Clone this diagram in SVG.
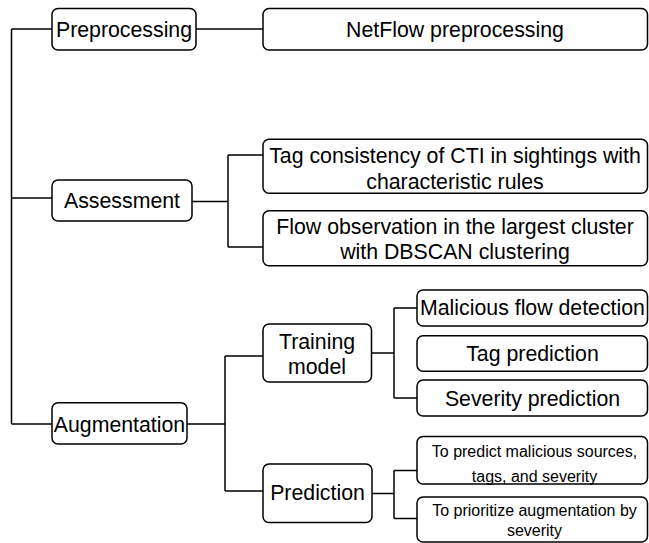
<svg xmlns="http://www.w3.org/2000/svg" width="649" height="543" viewBox="0 0 649 543">
<style>
.box{fill:#ffffff;stroke:#000000;stroke-width:1.5}
.ln{fill:none;stroke:#000000;stroke-width:1.5}
text{font-family:"Liberation Sans",Arial,sans-serif;fill:#000000;text-anchor:middle}
.big{font-size:21.3px}
.small{font-size:16px}
</style>
<rect width="649" height="543" fill="#ffffff"/>
<g id="connectors">
<path class="ln" d="M11.5,29 V424"/>
<path class="ln" d="M11.5,29 H52"/>
<path class="ln" d="M11.5,198 H52"/>
<path class="ln" d="M11.5,424 H52"/>
<path class="ln" d="M196,29 H263"/>
<path class="ln" d="M192,201.5 H228 M228,155 V247 M228,155 H263 M228,247 H263"/>
<path class="ln" d="M187,424 H225 M225,356 V491 M225,356 H263 M225,491 H263"/>
<path class="ln" d="M372,353 H394 M394,308 V398 M394,308 H417 M394,398 H417"/>
<path class="ln" d="M372,493.5 H394 M394,470.5 V518.5 M394,470.5 H417 M394,518.5 H417"/>
</g>
<g id="preprocessing"><rect class="box" x="52" y="8.5" width="144" height="41.5" rx="6"/><text class="big" x="124" y="36.5">Preprocessing</text></g>
<g id="assessment"><rect class="box" x="52" y="180" width="140" height="41" rx="6"/><text class="big" x="122" y="208">Assessment</text></g>
<g id="augmentation"><rect class="box" x="52" y="402.7" width="135" height="41.3" rx="6"/><text class="big" x="119.5" y="431.5">Augmentation</text></g>
<g id="netflow"><rect class="box" x="263" y="8.5" width="384.5" height="41.5" rx="6"/><text class="big" x="455" y="36.5">NetFlow preprocessing</text></g>
<g id="tag-consistency"><rect class="box" x="263" y="139.3" width="384.5" height="54" rx="6"/><text class="big" x="455" y="162.5">Tag consistency of CTI in sightings with</text><text class="big" x="455" y="189">characteristic rules</text></g>
<g id="flow-observation"><rect class="box" x="263" y="210.7" width="384.5" height="55" rx="6"/><text class="big" x="455" y="234">Flow observation in the largest cluster</text><text class="big" x="455" y="259">with DBSCAN clustering</text></g>
<g id="training-model"><rect class="box" x="263" y="324" width="108.5" height="58" rx="6"/><text class="big" x="317" y="349">Training</text><text class="big" x="317" y="374">model</text></g>
<g id="prediction"><rect class="box" x="263" y="464" width="109" height="58.5" rx="6"/><text class="big" x="317.5" y="500">Prediction</text></g>
<g id="malicious-flow"><rect class="box" x="417" y="290" width="230.5" height="36" rx="6"/><text class="big" x="532.5" y="315">Malicious flow detection</text></g>
<g id="tag-prediction"><rect class="box" x="417" y="335.7" width="230.5" height="35.5" rx="6"/><text class="big" x="532.5" y="361">Tag prediction</text></g>
<g id="severity-prediction"><rect class="box" x="417" y="380" width="230.5" height="36" rx="6"/><text class="big" x="532.5" y="405.5">Severity prediction</text></g>
<g id="predict-sources"><rect class="box" x="417" y="436.5" width="230.5" height="47.5" rx="6"/><text class="small" x="534.5" y="456.5">To predict malicious sources,</text><text class="small" x="534.5" y="481.5">tags, and severity</text></g>
<g id="prioritize"><rect class="box" x="417" y="497" width="230.5" height="45" rx="6"/><text class="small" x="534.5" y="515.5">To prioritize augmentation by</text><text class="small" x="534.5" y="535.5">severity</text></g>
</svg>
